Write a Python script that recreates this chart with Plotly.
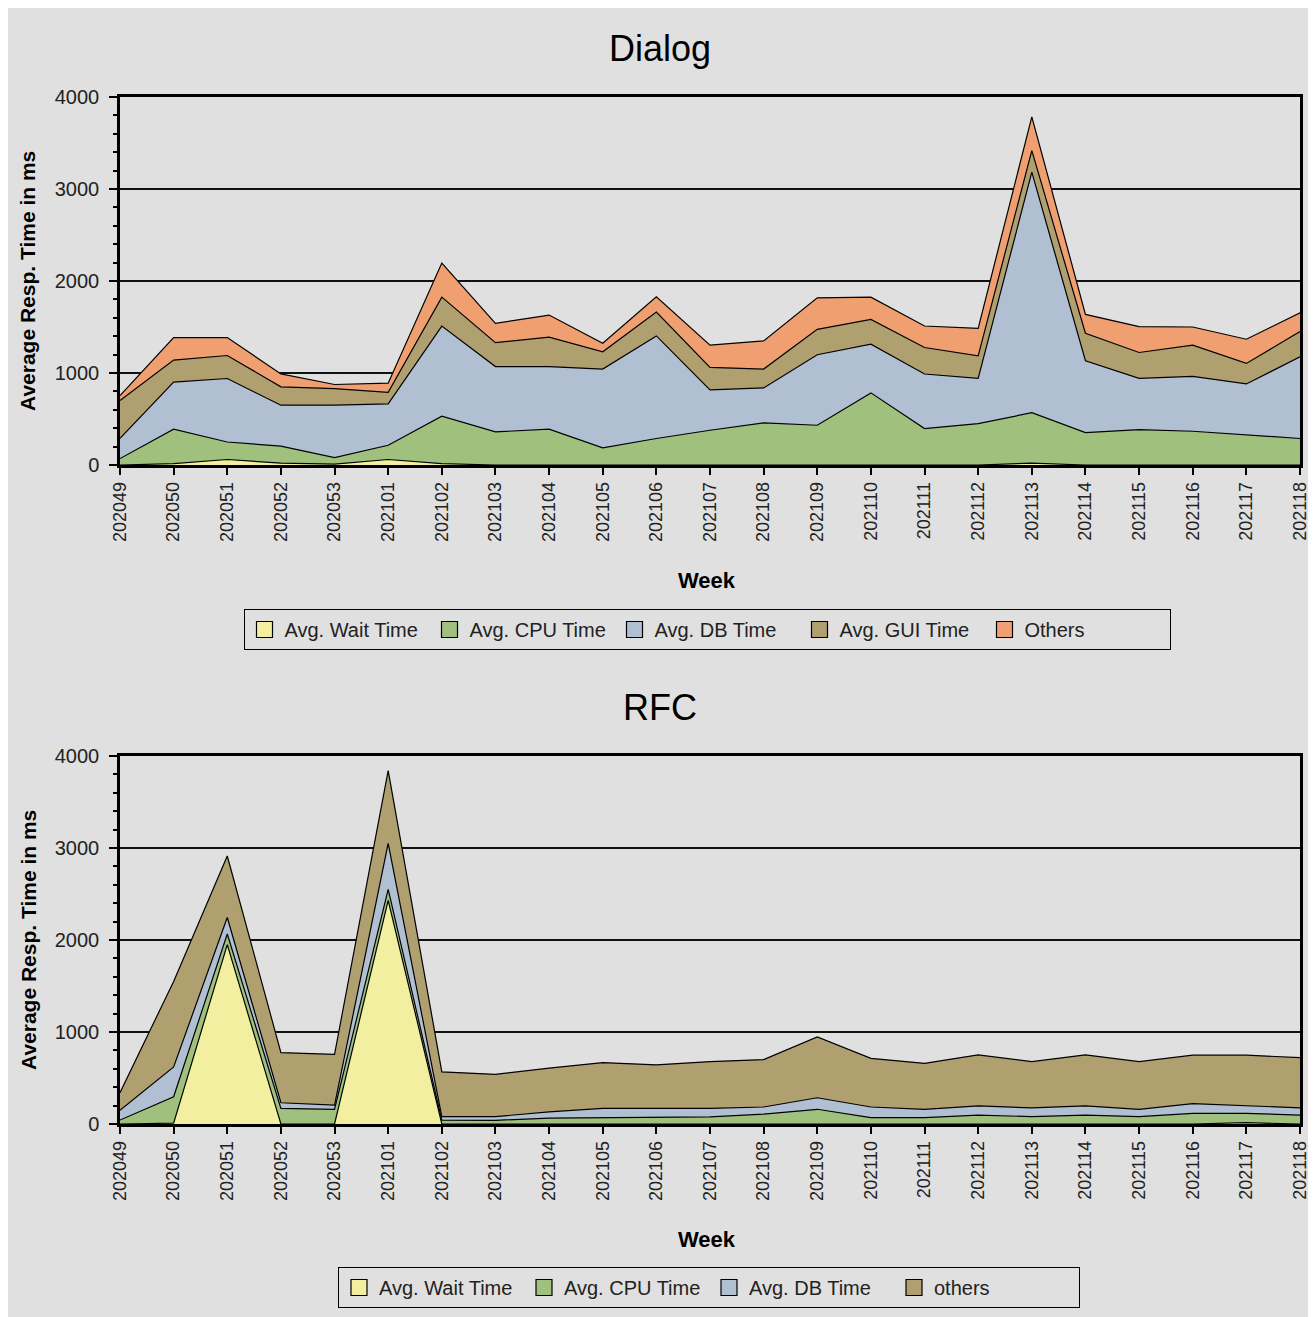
"""
Weekly average response time breakdown for Dialog and RFC task types,
drawn as two stacked area charts.
"""

import plotly.graph_objects as go
from plotly.subplots import make_subplots


# ── Data ────────────────────────────────────────────────────────────────────
WEEKS = [
    "202049", "202050", "202051", "202052", "202053", "202101", "202102",
    "202103", "202104", "202105", "202106", "202107", "202108", "202109",
    "202110", "202111", "202112", "202113", "202114", "202115", "202116",
    "202117", "202118",
]

# Dialog (ms)
DIALOG_WAIT = [0, 15, 60, 20, 10, 60, 15, 0, 0, 0, 0, 0, 0, 0, 0, 0, 0, 20, 0, 0, 0, 0, 0]
DIALOG_CPU = [70, 375, 190, 185, 70, 155, 515, 360, 390, 187, 288, 378, 457, 432,
              784, 396, 450, 548, 352, 385, 367, 324, 288]
DIALOG_DB = [220, 510, 690, 445, 570, 450, 980, 710, 680, 856, 1115, 439, 381, 766,
             529, 593, 492, 2615, 781, 557, 597, 557, 888]
DIALOG_GUI = [410, 240, 250, 200, 180, 125, 315, 260, 320, 187, 259, 244, 205, 277,
              270, 288, 245, 234, 299, 281, 338, 223, 274]
DIALOG_OTHERS = [55, 245, 195, 140, 45, 100, 370, 210, 240, 94, 165, 241, 306, 342,
                 241, 234, 299, 367, 205, 281, 198, 263, 205]

# RFC (ms)
RFC_WAIT = [0, 10, 1950, 0, 0, 2430, 0, 0, 0, 0, 0, 0, 0, 0, 0, 0, 0, 0, 0, 0, 0, 15, 0]
RFC_CPU = [43, 286, 115, 170, 160, 120, 43, 40, 64, 70, 70, 78, 107, 160, 70, 70,
           97, 80, 97, 80, 115, 100, 97]
RFC_DB = [107, 324, 180, 61, 46, 500, 37, 40, 68, 100, 100, 92, 78, 125, 115, 90,
          100, 95, 100, 80, 107, 82, 78]
RFC_OTHERS = [190, 930, 668, 545, 552, 790, 487, 460, 475, 498, 473, 509, 515, 661,
              529, 500, 555, 502, 555, 517, 526, 551, 547]

# ── Colours ─────────────────────────────────────────────────────────────────
BG = "#e0e0e0"
C_WAIT = "#f2f0a0"
C_CPU = "#a0c07e"
C_DB = "#b0c0d2"
C_GUI = "#b0a070"
C_OTHERS = "#f0a070"
FONT = "Liberation Sans, Arial, sans-serif"

# page body adds an 8px margin; lay things out in page pixels minus that
OFF = 8
W, H = 1316 - OFF, 1317 - OFF


def px_x(x):
    return (x - OFF) / W


def px_y(y):
    return 1 - (y - OFF) / H


fig = make_subplots(rows=2, cols=1)


def add_area(name, values, colour, row, legend):
    fig.add_trace(
        go.Scatter(
            x=WEEKS,
            y=values,
            name=name,
            mode="lines",
            stackgroup=f"s{row}",
            line=dict(color="black", width=1.2),
            fillcolor=colour,
            showlegend=False,
            hoverinfo="x+y+name",
        ),
        row=row, col=1,
    )
    # square swatch for the legend
    fig.add_trace(
        go.Scatter(
            x=[None],
            y=[None],
            name=name,
            mode="markers",
            marker=dict(symbol="square", size=16, color=colour,
                        line=dict(color="black", width=1.2)),
            legend=legend,
        ),
        row=row, col=1,
    )


add_area("Avg. Wait Time", DIALOG_WAIT, C_WAIT, 1, "legend")
add_area("Avg. CPU Time", DIALOG_CPU, C_CPU, 1, "legend")
add_area("Avg. DB Time", DIALOG_DB, C_DB, 1, "legend")
add_area("Avg. GUI Time", DIALOG_GUI, C_GUI, 1, "legend")
add_area("Others", DIALOG_OTHERS, C_OTHERS, 1, "legend")

add_area("Avg. Wait Time", RFC_WAIT, C_WAIT, 2, "legend2")
add_area("Avg. CPU Time", RFC_CPU, C_CPU, 2, "legend2")
add_area("Avg. DB Time", RFC_DB, C_DB, 2, "legend2")
add_area("others", RFC_OTHERS, C_GUI, 2, "legend2")

x_dom = [px_x(120), px_x(1300)]
y_dom_top = [px_y(465), px_y(97)]
y_dom_bot = [px_y(1124), px_y(756)]

fig.update_xaxes(
    type="category",
    range=[0, len(WEEKS) - 1],
    tickangle=-90,
    ticks="outside",
    ticklen=7,
    tickwidth=2,
    tickcolor="black",
    showline=True,
    linecolor="black",
    linewidth=2.5,
    mirror=True,
    showgrid=False,
    automargin=False,
    tickfont=dict(size=18, color="#222"),
    domain=x_dom,
)
fig.update_yaxes(
    range=[0, 4000],
    dtick=1000,
    ticks="outside",
    ticklen=8,
    tickwidth=2,
    tickcolor="black",
    ticklabelstandoff=6,
    showline=True,
    linecolor="black",
    linewidth=2.5,
    mirror=True,
    showgrid=True,
    gridcolor="#111",
    gridwidth=1.5,
    zeroline=False,
    automargin=False,
    minor=dict(dtick=200, ticks="outside", ticklen=4, tickcolor="black", showgrid=False),
    tickfont=dict(size=20, color="#222"),
)
fig.update_layout(
    yaxis=dict(domain=y_dom_top),
    yaxis2=dict(domain=y_dom_bot),
)

legend_style = dict(
    orientation="h",
    xanchor="center",
    yanchor="top",
    bgcolor=BG,
    bordercolor="black",
    borderwidth=1,
    font=dict(size=20, color="#222"),
    entrywidth=140,
    entrywidthmode="pixels",
    traceorder="normal",
)


def label(text, x, y, size, angle=0):
    return dict(text=text, x=px_x(x), y=px_y(y), xref="paper", yref="paper",
                showarrow=False, textangle=angle, xanchor="center", yanchor="middle",
                font=dict(size=size, color="black"))


fig.update_layout(
    width=W,
    height=H,
    paper_bgcolor=BG,
    plot_bgcolor=BG,
    font=dict(family=FONT, color="black"),
    margin=dict(l=0, r=0, t=0, b=0),
    showlegend=True,
    legend=dict(x=px_x(707), y=px_y(609), **legend_style),
    legend2=dict(x=px_x(709), y=px_y(1267), **legend_style),
    annotations=[
        label("Dialog", 660, 48, 36),
        label("RFC", 660, 707, 36),
        label("<b>Week</b>", 707, 580, 22),
        label("<b>Week</b>", 707, 1239, 22),
        label("<b>Average Resp. Time in ms</b>", 28, 281, 21, -90),
        label("<b>Average Resp. Time in ms</b>", 28, 940, 21, -90),
    ],
)

fig.write_html("out.html")
